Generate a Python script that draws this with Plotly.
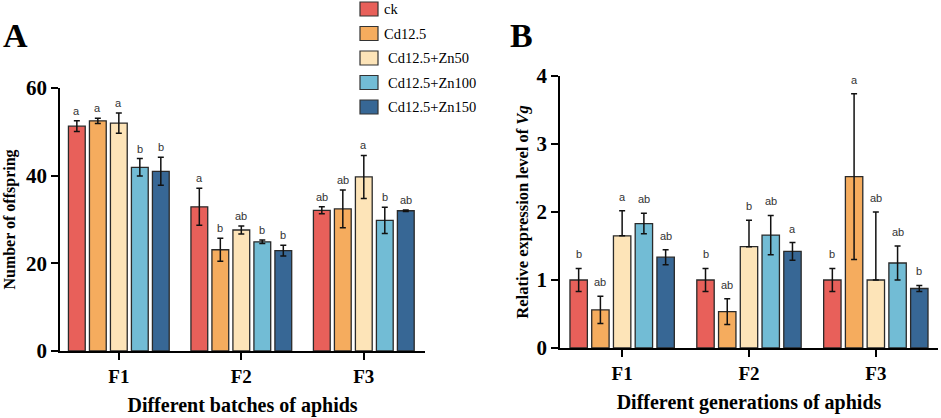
import plotly.graph_objects as go

# groups and treatments
groups = ['F1', 'F2', 'F3']
treatments = ['ck', 'Cd12.5', 'Cd12.5+Zn50', 'Cd12.5+Zn100', 'Cd12.5+Zn150']
colors = ['#E8605A', '#F5AC5E', '#FDE4B8', '#72BCD5', '#376795']

# panel A: number of offspring (mean, error, letters) per treatment across F1..F3
offspring = [
    [51.3, 32.9, 32.1],
    [52.5, 23.1, 32.4],
    [52.0, 27.6, 39.7],
    [41.9, 24.9, 29.8],
    [41.0, 22.9, 32.0],
]
offspring_err = [
    [1.2, 4.2, 0.8],
    [0.6, 2.6, 4.3],
    [2.3, 0.9, 4.9],
    [2.0, 0.4, 3.0],
    [3.2, 1.2, 0.15],
]
offspring_sig = [
    ['a', 'a', 'ab'],
    ['a', 'b', 'ab'],
    ['a', 'ab', 'a'],
    ['b', 'b', 'b'],
    ['b', 'b', 'ab'],
]

# panel B: relative expression of Vg
vg = [
    [1.0, 1.0, 1.0],
    [0.56, 0.535, 2.52],
    [1.65, 1.49, 1.0],
    [1.83, 1.66, 1.25],
    [1.335, 1.42, 0.875],
]
vg_err_up = [
    [0.17, 0.17, 0.17],
    [0.2, 0.19, 1.22],
    [0.37, 0.39, 1.0],
    [0.15, 0.29, 0.25],
    [0.11, 0.13, 0.045],
]
vg_err_down = [
    [0.17, 0.17, 0.17],
    [0.2, 0.19, 1.22],
    [0, 0, 0],
    [0.15, 0.29, 0.25],
    [0.11, 0.13, 0.045],
]
vg_sig = [
    ['b', 'b', 'b'],
    ['ab', 'ab', 'a'],
    ['a', 'b', 'ab'],
    ['ab', 'ab', 'ab'],
    ['ab', 'a', 'b'],
]

serif = 'Liberation Serif, Times New Roman, serif'
sans = 'Liberation Sans, Arial, sans-serif'
bargap = 0.143
n = len(treatments)
slot = (1 - bargap) / n
xs = list(range(len(groups)))
W, H = 941, 418

fig = go.Figure()
annotations = []
shapes = []

for j, name in enumerate(treatments):
    fig.add_trace(go.Bar(
        x=xs, y=offspring[j], name=name, showlegend=False,
        marker=dict(color=colors[j], line=dict(color='#2a2a2a', width=1.3)),
        error_y=dict(type='data', array=offspring_err[j], color='#111', thickness=1.5, width=3),
        xaxis='x', yaxis='y',
    ))
    fig.add_trace(go.Bar(
        x=xs, y=vg[j], name=name, showlegend=False,
        marker=dict(color=colors[j], line=dict(color='#2a2a2a', width=1.3)),
        error_y=dict(type='data', symmetric=False, array=vg_err_up[j], arrayminus=vg_err_down[j],
                     color='#111', thickness=1.5, width=3),
        xaxis='x2', yaxis='y2',
    ))
    off = (j - (n - 1) / 2) * slot
    for i in xs:
        annotations.append(dict(
            x=i + off, y=offspring[j][i] + offspring_err[j][i], xref='x', yref='y',
            text=offspring_sig[j][i], showarrow=False, yanchor='bottom', yshift=2,
            font=dict(family=sans, size=11, color='#333')))
        annotations.append(dict(
            x=i + off, y=vg[j][i] + vg_err_up[j][i], xref='x2', yref='y2',
            text=vg_sig[j][i], showarrow=False, yanchor='bottom', yshift=6,
            font=dict(family=sans, size=11, color='#333')))

    # legend box + label (drawn by hand to match the boxed key)
    cy = 9 + 24.5 * j
    shapes.append(dict(type='rect', xref='paper', yref='paper',
                       x0=360 / W, x1=378 / W, y0=1 - (cy + 7) / H, y1=1 - (cy - 7) / H,
                       fillcolor=colors[j], line=dict(color='#333', width=1.2)))
    annotations.append(dict(x=(382 if j < 2 else 386) / W, y=1 - cy / H, xref='paper', yref='paper',
                            text=name, showarrow=False, xanchor='left', yanchor='middle',
                            font=dict(family=serif, size=14.5, color='#000')))

# panel letters
annotations.append(dict(x=16 / W, y=1 - 35 / H, xref='paper', yref='paper', text='<b>A</b>', showarrow=False,
                        xanchor='center', yanchor='middle', font=dict(family=serif, size=34, color='#000')))
annotations.append(dict(x=521 / W, y=1 - 35 / H, xref='paper', yref='paper', text='<b>B</b>', showarrow=False,
                        xanchor='center', yanchor='middle', font=dict(family=serif, size=34, color='#000')))

axis_common = dict(showline=True, linecolor='#000', linewidth=1.5, ticks='outside', automargin=False,
                   tickcolor='#000', tickwidth=1.5, ticklen=7, showgrid=False, zeroline=False,
                   tickfont=dict(family=serif, size=19, color='#000'))

fig.update_layout(
    width=W, height=H,
    margin=dict(l=0, r=0, t=0, b=0),
    paper_bgcolor='white', plot_bgcolor='white',
    barmode='group', bargap=bargap, bargroupgap=0.2,
    annotations=annotations, shapes=shapes, showlegend=False,
    xaxis=dict(axis_common, domain=[0.0638, 0.4517], range=[-0.48, 2.5],
               tickvals=xs, ticktext=['<b>%s</b>' % g for g in groups],
               title=dict(text='<b>Different batches of aphids</b>', standoff=12,
                          font=dict(family=serif, size=20, color='#000'))),
    yaxis=dict(axis_common, domain=[0.1603, 0.7895], range=[0, 60], tickvals=[0, 20, 40, 60],
               ticktext=['<b>%d</b>' % v for v in [0, 20, 40, 60]],
               tickfont=dict(family=serif, size=21, color='#000'),
               title=dict(text='<b>Number of offspring</b>', standoff=6,
                          font=dict(family=serif, size=16, color='#000'))),
    xaxis2=dict(axis_common, domain=[0.5951, 0.9968], range=[-0.49, 2.49], anchor='y2',
                tickvals=xs, ticktext=['<b>%s</b>' % g for g in groups],
                title=dict(text='<b>Different generations of aphids</b>', standoff=12,
                           font=dict(family=serif, size=20, color='#000'))),
    yaxis2=dict(axis_common, domain=[0.1675, 0.8182], range=[0, 4], anchor='x2', tickvals=[0, 1, 2, 3, 4],
                ticktext=['<b>%d</b>' % v for v in [0, 1, 2, 3, 4]],
                tickfont=dict(family=serif, size=21, color='#000'),
                title=dict(text='<b>Relative expression level of <i>Vg</i></b>', standoff=4,
                           font=dict(family=serif, size=16.5, color='#000'))),
)

# the page body has a default 8px margin; drop it so the figure sits at the window corner
fig.write_html("out.html", config={'displayModeBar': False},
               post_script="document.body.style.margin='0';")
